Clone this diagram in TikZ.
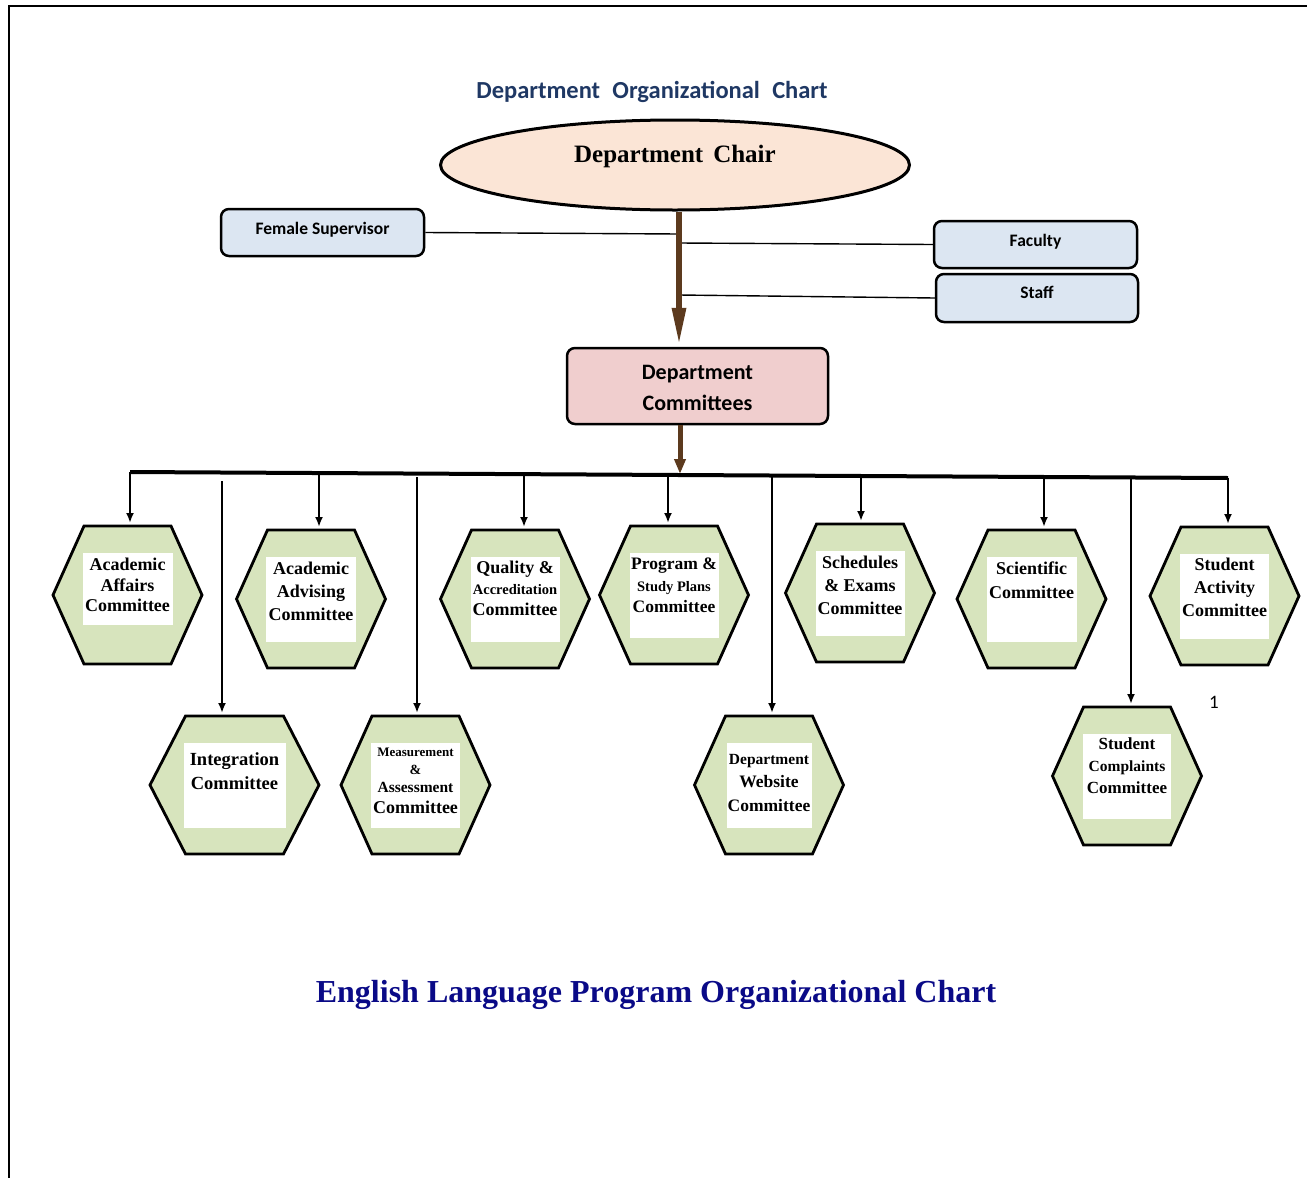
\documentclass[tikz,border=0pt]{standalone}
\usepackage{fontspec}
\setmainfont{Liberation Serif}
\newfontfamily\calfont{Carlito}
\usetikzlibrary{shapes.geometric,arrows.meta,calc}
\definecolor{hexfill}{RGB}{215,228,189}
\definecolor{peach}{RGB}{251,229,214}
\definecolor{boxblue}{RGB}{220,230,242}
\definecolor{boxpink}{RGB}{240,206,206}
\definecolor{brownc}{RGB}{92,58,30}
\definecolor{titleblue}{RGB}{31,56,100}
\definecolor{navyc}{RGB}{10,10,135}
\tikzset{
  hexline/.style={draw=black, line width=2.8pt, fill=hexfill, line join=miter},
  hextext/.style={font=\bfseries\fontsize{18}{23}\selectfont, align=center, inner sep=0pt, anchor=north},
  rbox/.style={draw=black, line width=2.5pt, rounded corners=8pt, inner sep=0pt},
  bluebox/.style={rbox, fill=boxblue, minimum width=203pt, minimum height=47pt, font=\calfont\bfseries\fontsize{17.5}{21}\selectfont},
  link/.style={line width=1.4pt},
  drop/.style={line width=2pt, -{Latex[length=10pt,width=8pt]}, shorten >=3pt},
  busline/.style={line width=4pt},
  brownarrow/.style={draw=brownc, line width=6pt, -{Triangle[length=38pt,width=13pt]}, shorten >=1pt},
  brownarrowb/.style={draw=brownc, line width=5pt, -{Triangle[length=15pt,width=11pt]}},
}
% name, cx, cy, half width, half top, rect half width, rect height, options, text
\newcommand\hexa[9]{%
  \draw[hexline] (#2-#4,#3) -- (#2-#5,#3-69) -- (#2+#5,#3-69) -- (#2+#4,#3) -- (#2+#5,#3+69) -- (#2-#5,#3+69) -- cycle;
  \coordinate (#1-top) at (#2,#3-69);
  \fill[white] (#2-#6,#3-42) rectangle (#2+#6,#3-42+#7);
  \node[hextext,#8] (#1) at (#2,#3-37) {#9};
}
\begin{document}
\begin{tikzpicture}[x=1pt,y=-1pt]
\useasboundingbox (0,0) rectangle (1307,1178);
% page frame
\draw[line width=2pt] (9,1178) -- (9,6) -- (1307,6);

% title
\node[font=\calfont\bfseries\fontsize{24.5}{29}\selectfont, text=titleblue, anchor=base, inner sep=0pt] (title) at (652,98) {Department\hspace{0.5em}Organizational\hspace{0.5em}Chart};

% chair
\node[ellipse, draw=black, line width=3pt, fill=peach, minimum width=469pt, minimum height=90pt, inner sep=0pt] (chair) at (675,165) {};
\node[font=\bfseries\fontsize{25}{30}\selectfont, anchor=base, inner sep=0pt] (chairtext) at (675,162) {Department\hspace{0.4em}Chair};

% side boxes
\node[bluebox] (fs) at (322.5,232.5) {\raisebox{-1.5pt}[0pt][0pt]{Female Supervisor}};
\node[bluebox] (fac) at (1035.5,244.5) {\raisebox{-1.5pt}[0pt][0pt]{Faculty}};
\node[bluebox, minimum width=202pt, minimum height=48pt] (staff) at (1037,298) {\raisebox{-0.7pt}[0pt][0pt]{Staff}};

% committees box
\node[rbox, fill=boxpink, minimum width=261pt, minimum height=76pt, align=center, font=\calfont\bfseries\fontsize{22}{31}\selectfont] (dc) at (697.5,386) {\raisebox{-8.5pt}[0pt][0pt]{Department}\\\raisebox{-8.5pt}[0pt][0pt]{Committees}};

% junctions on the shaft
\coordinate (shaft) at (679,300);
\coordinate (j1) at (679,234);
\coordinate (j2) at (679,243);
\coordinate (j3) at (679,295);
\draw[link] (fs.east) -- (j1);
\draw[link] (j2) -- (fac.west);
\draw[link] (j3) -- (staff.west);
\draw[brownarrow] (chair.south -| shaft) -- (dc.north -| shaft);

% bus
\coordinate (bj) at (680,474);
\coordinate (b1) at (130,472);
\coordinate (b2) at (222,481);
\coordinate (b3) at (319,473);
\coordinate (b4) at (417,477);
\coordinate (b5) at (524,474);
\coordinate (b6) at (668,475);
\coordinate (b7) at (772,475.5);
\coordinate (b8) at (861,476);
\coordinate (b9) at (1044,477);
\coordinate (b10) at (1131,477.5);
\coordinate (b11) at (1228,478);
\draw[brownarrowb] (dc.south -| bj) -- (bj);
\draw[busline] (b1) -- (b11);

% hexagons
\hexa{aa}{127.5}{595}{74.5}{43.5}{45}{72}{font=\bfseries\fontsize{18}{20.5}\selectfont}{Academic\\Affairs\\Committee}
\hexa{adv}{311}{599}{74.5}{43.5}{45}{85}{}{Academic\\Advising\\Committee}
\hexa{qual}{515}{599}{74.5}{43.5}{44.5}{85}{font=\bfseries\fontsize{18}{21}\selectfont, yshift=1pt}{Quality \&\\{\fontsize{14.5}{16}\selectfont Accreditation}\\Committee}
\hexa{prog}{674}{595}{74.5}{43.5}{44.5}{85}{font=\bfseries\fontsize{17.5}{21.5}\selectfont}{Program \&\\{\fontsize{14.5}{16}\selectfont Study Plans}\\Committee}
\hexa{sched}{860}{593}{74.5}{43.5}{44.5}{85}{}{Schedules\\\& Exams\\Committee}
\hexa{sci}{1031.5}{599}{74.5}{43.5}{45}{85}{font=\bfseries\fontsize{18}{24}\selectfont}{Scientific\\Committee}
\hexa{act}{1224.5}{596}{74.5}{43.5}{44.5}{85}{yshift=1.5pt}{Student\\Activity\\Committee}
\hexa{integ}{234.5}{785}{84.5}{49}{51}{85}{font=\bfseries\fontsize{18.5}{24}\selectfont, yshift=-4pt}{Integration\\Committee}
\hexa{meas}{415.5}{785}{74.5}{43.5}{44.5}{85}{font=\bfseries\fontsize{13}{18}\selectfont}{Measurement\\{\fontsize{14}{16}\selectfont\&}\\{\fontsize{15.5}{18}\selectfont Assessment}\\[3pt]{\fontsize{18}{20}\selectfont Committee}}
\hexa{web}{769}{785}{74.5}{43.5}{42.5}{85}{font=\bfseries\fontsize{17.5}{23.5}\selectfont, yshift=-6pt}{{\fontsize{15.5}{18}\selectfont Department}\\Website\\Committee}
\hexa{compl}{1127}{776}{74.5}{43.5}{44}{85}{font=\bfseries\fontsize{17}{22}\selectfont, yshift=1.5pt}{Student\\{\fontsize{15.5}{18}\selectfont Complaints}\\Committee}

% drops
\draw[drop] (b1) -- (b1 |- aa-top);
\draw[drop] (b2) -- (b2 |- integ-top);
\draw[drop] (b3) -- (b3 |- adv-top);
\draw[drop] (b4) -- (b4 |- meas-top);
\draw[drop] (b5) -- (b5 |- qual-top);
\draw[drop] (b6) -- (b6 |- prog-top);
\draw[drop] (b7) -- (b7 |- web-top);
\draw[drop] (b8) -- (b8 |- sched-top);
\draw[drop] (b9) -- (b9 |- sci-top);
\draw[drop] (b10) -- (b10 |- compl-top);
\draw[drop] (b11) -- (b11 |- act-top);

% page number
\node[font=\calfont\fontsize{19}{22}\selectfont, anchor=base, inner sep=0pt] (pg) at (1214,708) {1};

% bottom title
\node[font=\bfseries\fontsize{32}{38}\selectfont, text=navyc, anchor=base, inner sep=0pt] (eng) at (656,1002) {English Language Program Organizational Chart};
\end{tikzpicture}
\end{document}
